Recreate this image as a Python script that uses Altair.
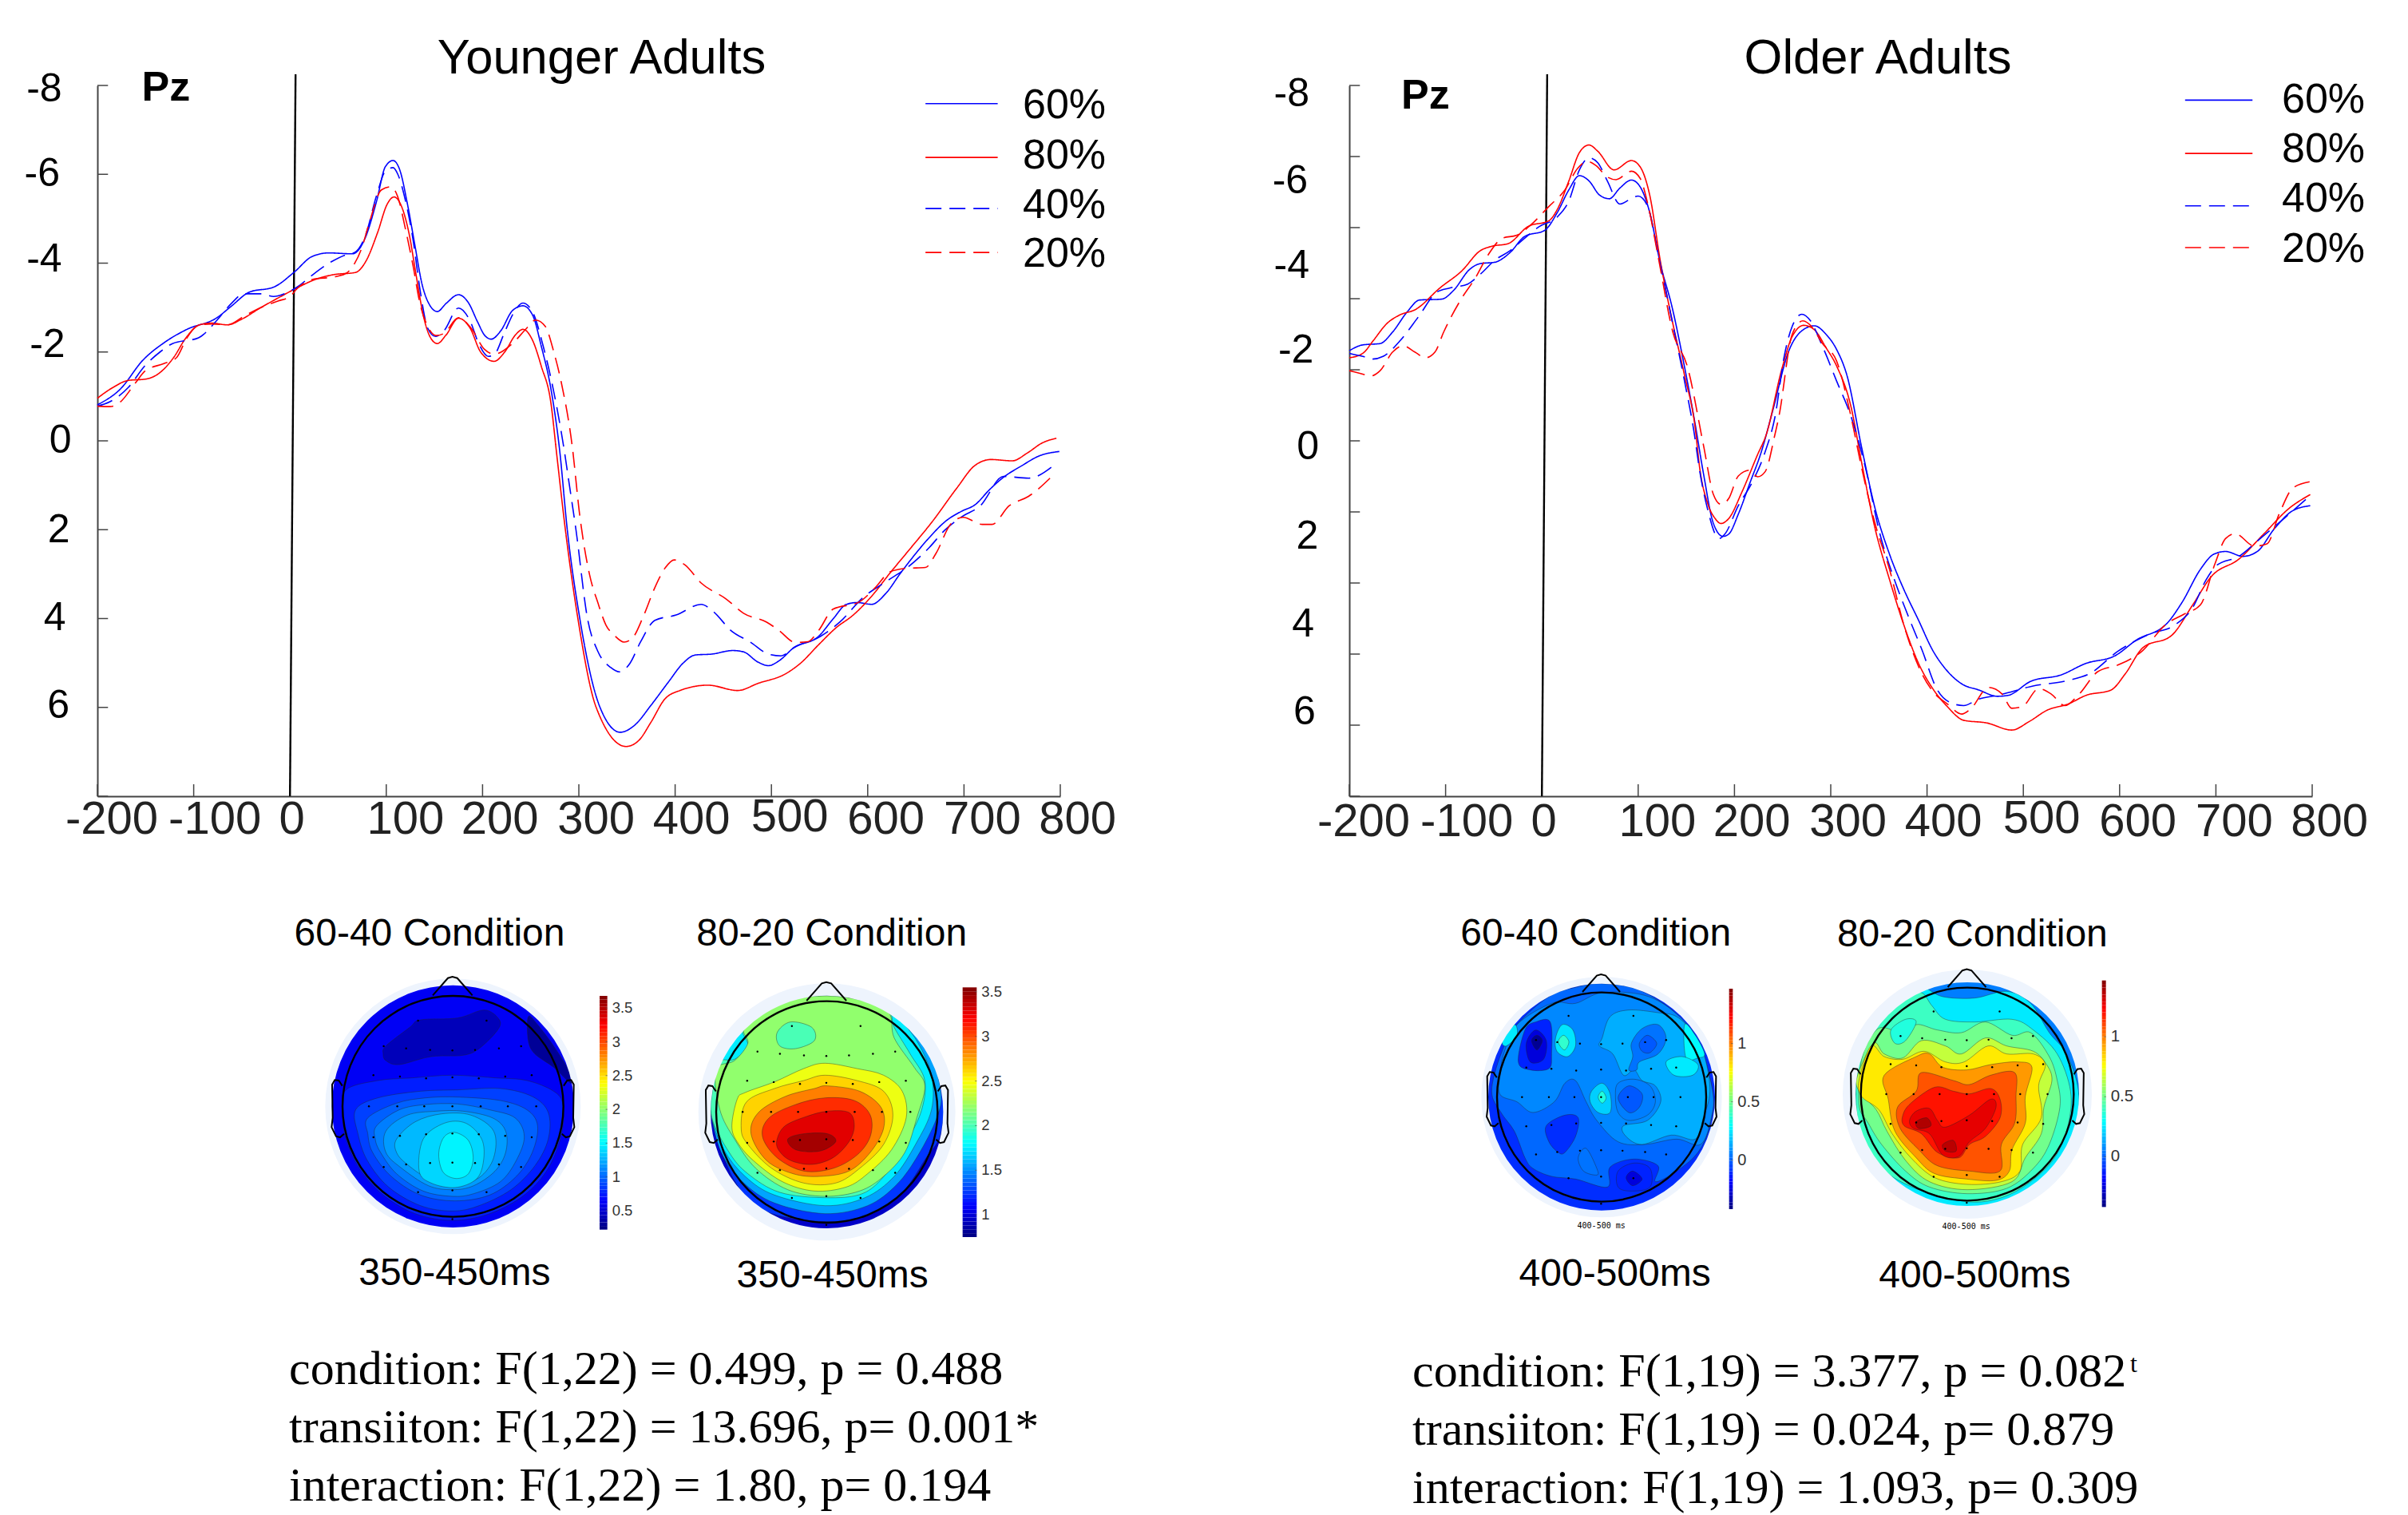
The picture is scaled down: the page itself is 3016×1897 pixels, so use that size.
import altair as alt
import pandas as pd

SERIES = ["60%", "80%", "40%", "20%"]
COLORS = ["#0000ff", "#ff0000", "#0000ff", "#ff0000"]
DASHES = [[1, 0], [1, 0], [20, 10], [20, 10]]

# ---- Younger adults
Y60_X = [-200,-176,-153,-130,-107,-76,-61,-42,-17,4,23,40,65,78,90,99,107,114,122,130,137,145,153,162,175,185,195,202,209,219,231,242,252,261,271,280,288,301,322,343,358,375,393,408,421,438,460,471,486,497,508,523,549,564,578,589,604,619,634,649,663,682,697,712,726,741,760,778,799]
Y60_Y = [-.81,-1.17,-1.81,-2.22,-2.51,-2.77,-3.03,-3.35,-3.46,-3.79,-4.15,-4.23,-4.21,-4.56,-5.4,-6.17,-6.31,-6.1,-5.33,-4.37,-3.54,-3.06,-2.91,-3.09,-3.29,-3.12,-2.67,-2.38,-2.29,-2.48,-2.93,-3.04,-2.83,-2.13,-1.17,.2,2,4,6,6.56,6.4,5.95,5.43,5.01,4.82,4.8,4.72,4.75,4.98,5.06,4.95,4.66,4.4,4.01,3.68,3.64,3.68,3.43,2.98,2.56,2.2,1.79,1.59,1.43,1.11,.82,.56,.34,.24]
Y80_X = [-200,-184,-168,-150,-136,-121,-108,-94,-81,-65,-50,-31,-12,7,26,45,68,79,91,101,108,116,124,131,139,146,153,162,175,187,198,212,223,234,242,252,261,271,277,286,299,318,349,362,375,389,405,434,465,486,515,530,549,567,585,604,623,644,667,693,711,728,750,766,781,796]
Y80_Y = [-.96,-1.2,-1.36,-1.39,-1.52,-1.87,-2.32,-2.61,-2.65,-2.61,-2.74,-2.99,-3.22,-3.44,-3.63,-3.74,-3.79,-4.05,-4.69,-5.33,-5.49,-5.27,-4.63,-3.73,-2.77,-2.32,-2.19,-2.38,-2.76,-2.54,-2,-1.79,-2,-2.38,-2.51,-2.26,-1.68,-.85,.3,2,4,6,6.88,6.75,6.33,5.82,5.62,5.5,5.62,5.46,5.24,5.01,4.59,4.21,3.92,3.5,2.98,2.43,1.82,1.05,.56,.42,.45,.27,.05,-.06]
Y40_X = [-200,-187,-168,-151,-135,-122,-95,-76,-61,-48,-30,-17,-6,8,23,42,61,67,78,90,99,107,112,120,128,135,143,151,160,175,187,196,206,212,223,232,242,252,263,274,284,290,297,309,320,333,342,353,364,379,401,427,440,458,478,497,510,523,551,571,595,619,643,664,680,697,717,741,767,795]
Y40_Y = [-.78,-.88,-1.2,-1.68,-2,-2.19,-2.32,-2.71,-3.09,-3.31,-3.31,-3.25,-3.31,-3.47,-3.73,-4.02,-4.21,-4.24,-4.6,-5.53,-6.07,-6.15,-6,-5.4,-4.5,-3.41,-2.54,-2.35,-2.48,-2.99,-2.7,-2.19,-1.9,-1.94,-2.45,-2.87,-3.1,-2.9,-2.13,-1.1,.1,.97,2,4,4.75,5.1,5.2,5.01,4.53,4.04,3.92,3.68,3.85,4.27,4.53,4.8,4.84,4.66,4.4,4.08,3.53,3.17,2.82,2.4,2.01,1.72,1.46,.8,.84,.52]
Y20_X = [-200,-187,-176,-161,-150,-131,-118,-107,-94,-81,-65,-46,-27,-12,0,8,23,48,59,67,74,82,95,105,112,120,128,135,143,152,160,175,188,202,212,231,246,255,265,274,282,293,301,311,320,328,337,347,356,367,379,390,399,410,427,453,471,495,508,525,538,549,564,591,608,623,640,660,671,686,699,719,729,747,767,795]
Y20_Y = [-.78,-.77,-.88,-1.29,-1.58,-1.74,-1.87,-2.32,-2.61,-2.63,-2.61,-2.83,-3.03,-3.15,-3.25,-3.44,-3.63,-3.7,-3.78,-3.99,-4.31,-4.88,-5.65,-5.72,-5.49,-4.76,-3.92,-3.09,-2.58,-2.37,-2.42,-2.77,-2.54,-2.06,-1.95,-2.19,-2.54,-2.72,-2.58,-2,-1.29,.1,1.69,3,3.66,4.14,4.38,4.53,4.43,3.95,3.3,2.85,2.68,2.79,3.2,3.56,3.88,4.08,4.27,4.54,4.52,4.27,3.79,3.63,3.3,2.95,2.87,2.85,2.53,1.88,1.72,1.88,1.88,1.46,1.25,.72]

# ---- Older adults
O60_X = [-200,-186,-168,-155,-140,-127,-104,-92,-75,-64,-49,-33,-18,3,16,28,39,49,60,70,81,93,102,112,123,135,148,159,168,178,188,194,204,216,228,240,256,272,283,295,306,317,332,346,361,376,391,406,421,436,454,473,484,508,539,565,595,617,650,665,684,698,710,728,743,761,780,798]
O60_Y = [-2.03,-2.16,-2.19,-2.45,-2.9,-3.17,-3.19,-3.38,-3.86,-3.99,-4.02,-4.24,-4.6,-4.74,-5.14,-5.65,-5.97,-5.85,-5.53,-5.45,-5.69,-5.87,-5.72,-5.14,-3.99,-3.03,-1.68,-.4,.76,1.85,2.15,2.1,1.65,.95,.24,-.7,-2,-2.51,-2.59,-2.4,-2.06,-1.46,.14,1.52,2.55,3.35,4.03,4.72,5.18,5.47,5.61,5.75,5.73,5.41,5.27,5.01,4.84,4.49,4.09,3.63,2.89,2.55,2.49,2.6,2.49,1.97,1.57,1.46]
O80_X = [-200,-186,-175,-161,-148,-131,-106,-83,-64,-52,-35,-14,7,16,28,39,49,58,75,93,102,112,123,136,148,159,164,172,180,186,194,208,224,233,249,260,272,283,295,306,321,332,346,361,376,391,406,421,438,462,488,506,525,547,565,591,606,624,654,676,695,724,750,776,798]
O80_Y = [-1.87,-1.97,-2.26,-2.64,-2.83,-2.96,-3.44,-3.83,-4.28,-4.38,-4.44,-4.83,-4.95,-5.21,-5.85,-6.49,-6.66,-6.52,-6.1,-6.31,-6.17,-5.53,-4.05,-2.64,-1.49,-.33,.63,1.4,1.75,1.86,1.75,1.14,.31,-.14,-1.6,-2.35,-2.6,-2.5,-2.1,-1.69,-.77,.48,1.97,3.12,4.15,5,5.58,5.98,6.29,6.35,6.51,6.32,6.06,5.92,5.73,5.61,5.24,4.66,4.38,3.69,3.06,2.66,2.09,1.52,1.21]
O40_X = [-200,-186,-176,-165,-147,-128,-109,-96,-77,-65,-48,-33,-18,-3,16,28,39,49,58,68,81,91,100,110,121,134,148,158,164,172,184,190,204,218,232,242,252,260,270,279,290,306,321,336,351,366,380,395,410,425,438,454,473,510,547,569,598,631,657,676,690,701,724,746,768,798]
O40_Y = [-1.97,-1.9,-1.84,-1.9,-2.26,-2.8,-3.35,-3.44,-3.53,-3.73,-4.08,-4.28,-4.56,-4.82,-5.04,-5.4,-6.1,-6.37,-6.26,-5.85,-5.33,-5.43,-5.51,-5.27,-4.18,-2.83,-1.36,-.2,.69,1.53,2.2,2.1,1.46,.95,.24,-.53,-1.94,-2.58,-2.85,-2.7,-2.2,-1.35,-.55,.6,2.09,3.12,3.92,4.72,5.58,5.9,5.96,5.81,5.73,5.52,5.39,5.24,4.74,4.35,4.15,3.75,3.12,2.8,2.6,2.2,1.8,1.23]
O20_X = [-200,-189,-178,-168,-155,-144,-132,-121,-111,-102,-83,-69,-56,-41,-26,-12,7,24,37,47,56,68,77,93,102,110,121,136,151,168,178,186,194,204,216,224,232,242,246,260,271,281,291,306,321,332,346,361,376,391,406,421,436,445,464,478,488,499,516,529,543,558,577,599,624,647,667,684,699,710,720,740,753,766,780,798]
O20_Y = [-1.58,-1.52,-1.46,-1.58,-2,-2.14,-2,-1.87,-2,-2.45,-3.22,-3.67,-4.18,-4.56,-4.63,-4.85,-5.27,-5.65,-6.13,-6.29,-6.2,-5.94,-5.88,-6.07,-5.91,-5.33,-4.12,-2.45,-1.68,.12,1.2,1.43,1.3,.79,.66,.81,.69,-.14,-.53,-2.4,-2.7,-2.55,-2.2,-1.8,-.55,.6,1.86,2.89,4.15,5.07,5.64,5.92,6.15,6.04,5.55,5.7,6.02,5.98,5.58,5.7,5.96,5.7,5.2,5.04,4.72,4.15,3.9,3.69,2.77,2.2,2.09,2.37,2.32,1.63,1.06,.92]

XTICKS = [-200,-100,0,100,200,300,400,500,600,700,800]
XLABEL_X = [-185,-78,2,120,218,318,417,519,619,719,818]
XLABELS = ["-200","-100","0","100","200","300","400","500","600","700","800"]
YLABELS = ["-8","-6","-4","-2","0","2","4","6"]
YTICKS_L = [-8,-6,-4,-2,0,2,4,6,8]
YLAB_L_Y = [-7.91,-6,-4.08,-2.16,0,2.01,3.99,5.97]
YLAB_L_X = [-236.8,-239,-236.8,-233.5,-226.8,-228.5,-232.6,-229]
XLAB_L_Y = [8.54,8.54,8.54,8.54,8.54,8.54,8.54,8.49,8.54,8.54,8.54]
YTICKS_R = [-8,-6.4,-4.8,-3.2,-1.6,0,1.6,3.2,4.8,6.4,8]
YLAB_R_Y = [-7.81,-5.85,-3.94,-2.03,.14,2.16,4.14,6.12]
YLAB_R_X = [-241.5,-243,-241.5,-237,-231.5,-232,-236.5,-235]
XLAB_R_Y = [8.6,8.6,8.6,8.6,8.6,8.6,8.6,8.52,8.6,8.6,8.6]

LEG_L_X = [660,735]; LEG_L_Y = [-7.59,-6.38,-5.23,-4.24]; LEGT_L_X = 761; LEGT_L_Y = [-7.55,-6.42,-5.31,-4.21]
LEG_R_X = [668,738]; LEG_R_Y = [-7.67,-6.47,-5.29,-4.35]; LEGT_R_X = 768.5; LEGT_R_Y = [-7.68,-6.56,-5.45,-4.32]

SANS = "Liberation Sans"
SERIF = "Liberation Serif"
AXC = "#444444"
XS = alt.Scale(domain=[-200, 800], nice=False, zero=False)
YS = alt.Scale(domain=[8, -8], nice=False, zero=False)
ax_x = alt.Axis(title=None, labels=False, ticks=False, grid=False, domainColor=AXC, domainWidth=2, orient="bottom")
ax_y = alt.Axis(title=None, labels=False, ticks=False, grid=False, domainColor=AXC, domainWidth=2, orient="left")


def xe(f="x"):
    return alt.X(f, type="quantitative", scale=XS, axis=ax_x)


def ye(f="y"):
    return alt.Y(f, type="quantitative", scale=YS, axis=ax_y)


def text_layer(rows, font, size, align="center", baseline="middle", weight="normal", color="#000000"):
    return alt.Chart(pd.DataFrame(rows)).mark_text(font=font, fontSize=size, align=align, baseline=baseline,
                                                   fontWeight=weight, color=color).encode(x=xe(), y=ye(), text="t:N")


def erp_panel(curves, title, title_x, pz, yticks, ylx, yly, xly, legx, legy, ltx, lty, bar):
    rows = []
    for name, xs, ys in curves:
        rows += [{"series": name, "x": a, "y": b} for a, b in zip(xs, ys)]
    col = alt.Color("series:N", scale=alt.Scale(domain=SERIES, range=COLORS), legend=None)
    dash = alt.StrokeDash("series:N", scale=alt.Scale(domain=SERIES, range=DASHES), legend=None)
    lines = alt.Chart(pd.DataFrame(rows)).mark_line(interpolate="monotone", strokeWidth=1.6).encode(
        x=xe(), y=ye(), color=col, strokeDash=dash, order="x:Q")
    leg_rows = []
    for s, yy in zip(SERIES, legy):
        leg_rows += [{"series": s, "x": legx[0], "y": yy}, {"series": s, "x": legx[1], "y": yy}]
    leg = alt.Chart(pd.DataFrame(leg_rows)).mark_line(strokeWidth=1.6).encode(x=xe(), y=ye(), color=col, strokeDash=dash)
    vline = alt.Chart(pd.DataFrame({"x": bar[0], "y": bar[1]})).mark_line(color="#000000", strokeWidth=2.4).encode(x=xe(), y=ye())
    xt = alt.Chart(pd.DataFrame({"x": XTICKS, "y0": [8] * len(XTICKS), "y1": [7.73] * len(XTICKS)})).mark_rule(color=AXC, strokeWidth=1.5).encode(
        x=xe(), y=ye("y0"), y2="y1:Q")
    yt = alt.Chart(pd.DataFrame({"y": yticks, "x0": [-200] * len(yticks), "x1": [-189] * len(yticks)})).mark_rule(color=AXC, strokeWidth=1.5).encode(
        y=ye(), x=xe("x0"), x2="x1:Q")
    layers = [xt, yt, vline, lines, leg,
              text_layer([{"x": a, "y": b, "t": c} for a, b, c in zip(XLABEL_X, xly, XLABELS)], SANS, 58, color="#222222"),
              text_layer([{"x": a, "y": b, "t": c} for a, b, c in zip(ylx, yly, YLABELS)], SANS, 50, align="right"),
              text_layer([{"x": ltx, "y": b, "t": s} for b, s in zip(lty, SERIES)], SANS, 52, align="left"),
              text_layer([{"x": pz[0], "y": pz[1], "t": "Pz"}], SANS, 52, align="left", weight="bold"),
              text_layer([{"x": title_x, "y": -8.6, "t": title}], SANS, 61.5)]
    return alt.layer(*layers).properties(width=1206, height=890)


# ---- scalp maps (coordinates in a 3x-per-pixel frame)
NOSE = [(-.183,-1.005),(-.046,-1.161),(-.005,-1.173),(.039,-1.161),(.176,-1.005)]
EAR_L = [(-1.002,-.186),(-1.034,-.234),(-1.07,-.239),(-1.094,-.198),(-1.089,.104),(-1.099,.188),(-1.058,.272),(-1.022,.28),(-.986,.248)]
EAR_R = [(-a, b) for a, b in EAR_L]
DOTS = [(-.316,-.776),(.304,-.776),
        (-.627,-.545),(-.424,-.525),(-.207,-.511),(-.005,-.506),(.2,-.511),(.416,-.525),(.617,-.545),
        (-.72,-.282),(-.48,-.27),(-.243,-.253),(-.005,-.263),(.234,-.253),(.473,-.27),(.713,-.282),
        (-.761,0),(-.504,0),(-.26,0),(-.005,0),(.251,0),(.497,0),(.754,0),
        (-.72,.279),(-.48,.267),(-.243,.253),(-.005,.246),(.234,.253),(.473,.267),(.713,.279),
        (-.627,.549),(-.424,.525),(-.207,.513),(-.005,.509),(.2,.513),(.416,.525),(.617,.549),
        (-.316,.776),(-.005,.76),(.304,.776),(-.005,1.02)]

M1_BASE = .62
M1 = [(.42,[(420,560),(430,530),(520,460),(560,432),(700,425),(800,395),(855,430),(850,470),(780,540),(720,565),(600,570),(480,600),(430,585)]),
      (.3,[(965,420),(1000,450),(1060,530),(1115,620),(1125,670),(1060,610),(990,560),(965,510)]),
      (.75,[(280,695),(400,660),(530,650),(680,640),(840,650),(960,660),(1060,700),(1095,750),(1090,860),(1040,990),(950,1090),(820,1160),(680,1185),(540,1160),(420,1090),(330,990),(280,880),(268,780)]),
      (.87,[(316,770),(400,725),(560,700),(700,695),(860,690),(980,720),(1040,780),(1040,880),(990,980),(900,1070),(780,1130),(680,1150),(560,1130),(440,1060),(360,960),(325,860)]),
      (.98,[(362,800),(470,745),(580,725),(700,722),(860,735),(960,770),(1000,830),(980,930),(920,1020),(820,1090),(690,1112),(560,1090),(450,1020),(380,930),(362,860)]),
      (1.08,[(395,830),(480,770),(580,750),(700,748),(820,770),(915,800),(950,870),(920,960),(860,1040),(760,1085),(680,1095),(570,1075),(470,1010),(410,930),(390,880)]),
      (1.18,[(430,850),(510,790),(620,775),(720,775),(830,800),(880,850),(880,930),(840,1000),(760,1055),(680,1070),(590,1055),(490,990),(430,930)]),
      (1.28,[(470,880),(540,815),(640,785),(750,790),(835,850),(835,950),(780,1025),(690,1050),(600,1035),(510,975),(470,930)]),
      (1.38,[(555,1000),(570,880),(650,820),(730,820),(790,880),(797,960),(770,1030),(690,1062),(600,1045)]),
      (1.48,[(630,920),(650,870),(690,855),(740,885),(758,950),(740,1010),(695,1028),(650,1010),(632,970)])]

M2_BASE = .95
M2 = [(1.25,[(211,780),(260,950),(330,1080),(440,1160),(648,1190),(800,1165),(930,1080),(1020,950),(1075,860),(1085,700),(1040,560),(960,460),(850,370),(648,340),(450,370),(330,440),(240,580),(211,700)]),
      (1.55,[(211,780),(250,930),(330,1040),(450,1120),(640,1160),(800,1130),(910,1050),(990,940),(1060,800),(1075,700),(1030,540),(960,470),(880,395),(760,355),(648,340),(480,360),(330,450),(240,580),(211,690)]),
      (1.75,[(212,790),(260,920),(340,1020),(450,1090),(640,1130),(790,1100),(900,1020),(980,900),(1040,770),(1040,640),(990,520),(930,440),(880,400),(800,365),(648,340),(480,360),(340,440),(250,570),(215,680)]),
      (2.0,[(215,800),(280,930),(350,1010),(470,1080),(640,1100),(780,1085),(870,1010),(940,900),(1000,780),(1015,660),(960,560),(900,460),(880,400),(790,360),(648,342),(490,360),(380,420),(330,470),(350,530),(300,580),(240,590),(220,680)]),
      (2.2,[(230,620),(300,585),(350,520),(335,470),(390,420),(500,360),(648,342),(790,362),(880,405),(900,500),(975,610),(1015,680),(985,800),(940,930),(860,1020),(770,1075),(640,1095),(500,1070),(380,990),(300,880),(245,770)]),
      (2.0,[(460,480),(510,440),(590,460),(600,510),(530,540),(470,530)]),
      (2.45,[(290,830),(310,730),(340,705),(450,665),(560,615),(640,595),(760,615),(860,640),(930,700),(945,800),(890,920),(800,1010),(720,1060),(600,1075),(480,1040),(370,960),(310,890)]),
      (2.62,[(325,840),(345,740),(450,690),(560,660),(640,640),(760,660),(860,700),(895,790),(860,900),(770,990),(680,1045),(560,1045),(440,990),(350,900)]),
      (2.85,[(362,860),(390,780),(490,720),(600,690),(650,680),(770,700),(850,760),(860,840),(810,930),(730,1000),(620,1020),(520,1010),(420,960)]),
      (3.08,[(405,870),(430,800),(530,750),(640,725),(750,735),(810,790),(810,870),(760,940),(670,990),(560,1000),(460,950)]),
      (3.28,[(460,880),(490,830),(570,795),(650,775),(730,780),(750,830),(730,890),(670,950),(590,975),(510,960),(465,920)]),
      (3.45,[(500,880),(560,860),(650,860),(680,890),(620,925),(530,920)])]

M3_BASE = -.1
M3 = [(.01,[(205,700),(240,560),(300,450),(420,345),(520,310),(617,296),(760,320),(900,410),(980,520),(1035,700),(1025,830),(980,930),(900,1000),(820,1040),(830,980),(740,955),(650,985),(640,1060),(520,1030),(430,1020),(360,990),(330,950),(290,850),(240,780)]),
      (.07,[(235,710),(300,740),(360,780),(440,740),(480,670),(520,660),(560,740),(600,810),(680,890),(780,900),(900,880),(990,900),(1030,800),(1035,700),(985,520),(900,410),(780,340),(620,330),(520,370),(430,370),(300,450),(250,560),(240,620)]),
      (.14,[(620,500),(650,420),(720,395),(830,405),(900,420),(960,480),(1005,570),(1025,700),(1000,800),(970,880),(880,865),(770,900),(710,870),(700,830),(790,810),(840,740),(820,680),(770,660),(740,620),(700,640),(660,560),(610,530)]),
      (.05,[(670,720),(680,670),(740,655),(800,680),(820,740),(790,790),(720,810),(680,780)]),
      (-.02,[(680,725),(720,680),(770,710),(760,760),(720,780)]),
      (.03,[(730,520),(770,465),(830,450),(860,500),(830,560),(760,590),(750,620),(720,620),(735,570)]),
      (-.02,[(760,520),(790,490),(825,520),(800,555),(770,550)]),
      (.24,[(445,500),(470,450),(510,470),(520,530),(490,570),(450,550)]),
      (.38,[(455,515),(475,490),(495,515),(478,545)]),
      (.2,[(580,700),(620,670),(650,710),(650,780),(605,780),(575,740)]),
      (.35,[(605,722),(620,700),(635,725),(620,745)]),
      (-.12,[(305,590),(330,470),(370,440),(425,440),(430,560),(420,615),(350,620)]),
      (-.25,[(335,520),(370,470),(410,510),(400,580),(350,590)]),
      (-.38,[(355,510),(375,490),(395,510),(375,545)]),
      (-.1,[(410,830),(480,790),(530,800),(520,870),(480,930),(455,930),(420,890)]),
      (-.12,[(680,1000),(740,970),(800,990),(800,1060),(730,1075),(680,1060)]),
      (-.25,[(710,1025),(735,1000),(770,1030),(735,1055)]),
      (.03,[(530,950),(560,915),(600,990),(600,1015),(550,1000)]),
      (.25,[(245,510),(290,450),(300,490),(260,530)]),
      (.28,[(930,450),(970,490),(1005,560),(980,575),(935,575)]),
      (.25,[(860,590),(920,570),(980,600),(960,640),(890,640)])]

M4_BASE = .05
M4 = [(.25,[(195,640),(250,490),(370,350),(440,310),(520,345),(640,350),(760,325),(850,370),(920,480),(985,560),(1030,700),(1020,850),(970,970),(880,1060),(760,1125),(612,1147),(470,1125),(340,1060),(250,970),(195,850)]),
      (.4,[(200,620),(260,470),(380,350),(440,330),(480,380),(530,430),(640,440),(780,430),(860,470),(950,560),(1000,700),(990,830),(940,950),(850,1040),(740,1100),(612,1115),(430,1070),(300,1000),(240,920),(200,810)]),
      (.5,[(215,580),(270,470),(330,470),(380,500),(420,450),(500,470),(590,480),(680,440),(780,490),(850,480),(920,570),(950,660),(960,760),(920,900),(860,990),(760,1065),(612,1085),(470,1060),(380,1000),(290,900),(240,820),(205,750)]),
      (.35,[(325,470),(380,430),(420,440),(380,510),(340,520)]),
      (.65,[(200,640),(260,520),(300,560),(370,575),(440,510),(530,530),(590,560),(680,500),(760,530),(860,550),(910,600),(930,660),(900,760),(890,860),(830,950),(780,1040),(612,1070),(470,1040),(380,960),(310,850),(270,770),(205,700)]),
      (.8,[(205,660),(250,530),(300,570),(370,580),(450,550),(530,590),(600,590),(690,530),(760,560),(860,560),(905,600),(880,680),(890,800),(820,900),(810,1000),(740,1040),(612,1050),(490,1025),(400,950),(330,860),(280,770),(215,720)]),
      (.95,[(300,640),(420,570),(470,560),(520,610),(610,620),(700,600),(800,590),(855,610),(830,720),(830,820),(780,920),(770,1000),(720,1035),(610,1030),(490,1010),(420,950),(340,850),(315,730)]),
      (1.08,[(420,700),(440,630),(560,660),(620,675),(700,640),(790,630),(795,720),(790,820),(740,900),(735,1000),(620,1000),(500,980),(430,920),(360,840),(350,760)]),
      (1.2,[(370,790),(400,745),(490,685),(560,700),(620,710),(700,690),(735,730),(735,800),(680,870),(620,900),(580,950),(500,930),(440,860),(375,830)]),
      (1.28,[(395,810),(420,775),(470,765),(500,810),(530,835),(620,790),(700,730),(720,760),(680,840),(620,890),(580,945),(520,940),(470,860),(410,840)]),
      (1.38,[(420,815),(460,800),(475,830),(430,840)]),
      (1.36,[(520,900),(560,885),(570,925),(530,925)])]

JET = ["#00007f","#0000ff","#007fff","#00ffff","#7fff7f","#ffff00","#ff7f00","#ff0000","#7f0000"]
PALE = "#eef4fd"
TOP_FRAME = -219
BOT_FRAME = 1530


def jet(v, lo, hi):
    f = max(0.0, min(1.0, (v - lo) / (hi - lo))) * 8
    i = min(7, int(f))
    t = f - i
    a = [int(JET[i][k:k + 2], 16) for k in (1, 3, 5)]
    b = [int(JET[i + 1][k:k + 2], 16) for k in (1, 3, 5)]
    return "#" + "".join(f"{round(p + (q - p) * t):02x}" for p, q in zip(a, b))


def map_panel(polys, base, cx, cy, r_disc, r_pale, r_head, x0, x1, vmin, vmax, ticks, bar, lfs,
              title, tx, ty, when, wx, wy, tiny=None):
    xs = alt.Scale(domain=[x0, x1], nice=False, zero=False)
    ys = alt.Scale(domain=[BOT_FRAME, TOP_FRAME], nice=False, zero=False)
    X = alt.X("x:Q", scale=xs, axis=None)
    Y = alt.Y("y:Q", scale=ys, axis=None)
    FILL = alt.Fill("col:N", scale=None, legend=None)
    rows = []
    for k, (lev, pts) in enumerate(polys):
        rows += [{"p": f"p{k:02d}", "i": i, "col": jet(lev, vmin, vmax), "x": a, "y": b} for i, (a, b) in enumerate(pts)]
    centre = pd.DataFrame({"x": [cx], "y": [cy], "col": [jet(base, vmin, vmax)]})
    disc = alt.Chart(centre).mark_point(filled=True, shape="circle", size=(2 * (r_disc + 3) / 3) ** 2, opacity=1).encode(
        x=X, y=Y, fill=FILL)
    contours = alt.Chart(pd.DataFrame(rows)).mark_line(interpolate="cardinal-closed", stroke="#222222", strokeWidth=.8, strokeOpacity=.5).encode(
        x=X, y=Y, detail="p:N", order="i:Q", fill=FILL)
    ring = alt.Chart(centre).mark_point(filled=False, shape="circle", size=((r_pale + r_disc) / 3) ** 2,
                                        strokeWidth=(r_pale - r_disc) / 3, color=PALE, opacity=1).encode(x=X, y=Y)
    head = alt.Chart(centre).mark_point(filled=False, shape="circle", size=(2 * r_head / 3) ** 2,
                                        strokeWidth=2.4, color="#000000", opacity=1).encode(x=X, y=Y)
    shp = []
    for name, pts in (("n", NOSE), ("l", EAR_L), ("r", EAR_R)):
        shp += [{"s": name, "i": i, "x": cx + a * r_head, "y": cy + b * r_head} for i, (a, b) in enumerate(pts)]
    outline = alt.Chart(pd.DataFrame(shp)).mark_line(color="#000000", strokeWidth=2).encode(x=X, y=Y, detail="s:N", order="i:Q")
    dots = alt.Chart(pd.DataFrame([{"x": cx + a * r_head, "y": cy + b * r_head} for a, b in DOTS])).mark_point(
        filled=True, shape="circle", size=6, color="#000000", opacity=1).encode(x=X, y=Y)

    # colour bar
    bx0, bx1, bt, bb = bar
    n = 64
    cells = [{"x": bx0, "x2": bx1, "y": bb + (bt - bb) * j / n, "y2": bb + (bt - bb) * (j + 1) / n,
              "col": jet(vmin + (vmax - vmin) * (j + .5) / n, vmin, vmax)} for j in range(n)]
    cbar = alt.Chart(pd.DataFrame(cells)).mark_rect(stroke=None).encode(x=X, x2="x2:Q", y=Y, y2="y2:Q", fill=FILL)
    ty_of = lambda v: bb + (bt - bb) * (v - vmin) / (vmax - vmin)
    tick_rows = [{"x": bx1 - 6, "x2": bx1, "y": ty_of(v)} for v in ticks]
    cticks = alt.Chart(pd.DataFrame(tick_rows)).mark_rule(color="#555555", strokeWidth=.8).encode(x=X, x2="x2:Q", y=Y)
    clabels = alt.Chart(pd.DataFrame([{"x": bx1 + 18, "y": ty_of(v), "t": f"{v:g}"} for v in ticks])).mark_text(
        font=SANS, fontSize=lfs, align="left", baseline="middle", color="#333333").encode(x=X, y=Y, text="t:N")

    def label(t, a, b, font, size):
        return alt.Chart(pd.DataFrame({"x": [a], "y": [b], "t": [t]})).mark_text(
            font=font, fontSize=size, baseline="middle", color="#000000").encode(x=X, y=Y, text="t:N")

    layers = [disc, contours, ring, head, outline, dots, cbar, cticks, clabels,
              label(title, tx, ty, SANS, 48), label(when, wx, wy, SANS, 48)]
    if tiny:
        layers.append(label("400-500 ms", tiny[0], tiny[1], "DejaVu Sans Mono", 10))
    return alt.layer(*layers).properties(width=(x1 - x0) / 3, height=(BOT_FRAME - TOP_FRAME) / 3)


# ---- statistics text
STAT_L = ["condition: F(1,22) = 0.499, p = 0.488", "transiiton: F(1,22) = 13.696, p= 0.001*", "interaction: F(1,22) = 1.80, p= 0.194"]
STAT_R = ["condition: F(1,19) = 3.377, p = 0.082", "transiiton: F(1,19) = 0.024, p= 0.879", "interaction: F(1,19) = 1.093, p= 0.309"]
STAT_L_Y = [1734, 1807, 1880]
STAT_R_Y = [1737, 1810, 1883]
STAT_L_X = 362
STAT_R_X = 1769

young = erp_panel([("60%", Y60_X, Y60_Y), ("80%", Y80_X, Y80_Y), ("40%", Y40_X, Y40_Y), ("20%", Y20_X, Y20_Y)],
                  "Younger Adults", 323.7, (-154, -7.95), YTICKS_L, YLAB_L_X, YLAB_L_Y, XLAB_L_Y,
                  LEG_L_X, LEG_L_Y, LEGT_L_X, LEGT_L_Y, ([0, 5.8], [8, -8.25]))
old = erp_panel([("60%", O60_X, O60_Y), ("80%", O80_X, O80_Y), ("40%", O40_X, O40_Y), ("20%", O20_X, O20_Y)],
                "Older Adults", 349, (-146, -7.77), YTICKS_R, YLAB_R_X, YLAB_R_Y, XLAB_R_Y,
                LEG_R_X, LEG_R_Y, LEGT_R_X, LEGT_R_Y, ([0, 5.5], [8, -8.25]))

row1 = alt.hconcat(young, old, spacing=362, bounds="flush")
m1 = map_panel(M1, M1_BASE, 682, 757, 455, 480, 415, -654, 1440, .22, 3.68, [.5, 1, 1.5, 2, 2.5, 3, 3.5], (1233, 1262, 342, 1220), 18.5,
               "60-40 Condition", 594, 110, "350-450ms", 688, 1385)
m2 = map_panel(M2, M2_BASE, 647, 778, 437, 483, 416, 0, 1440, .75, 3.55, [1, 1.5, 2, 2.5, 3, 3.5], (1157, 1210, 310, 1248), 18.5,
               "80-20 Condition", 665, 110, "350-450ms", 668, 1395)
m3 = map_panel(M3, M3_BASE, 618, 722, 426, 452, 393, -1500, 1260, -.42, 1.47, [0, .5, 1], (1097, 1111, 315, 1143), 20,
               "60-40 Condition", 596, 110, "400-500ms", 668, 1390, tiny=(617, 1207))
m4 = map_panel(M4, M4_BASE, 612, 711, 420, 468, 400, -120, 1260, -.42, 1.47, [0, .5, 1], (1118, 1133, 284, 1135), 20.5,
               "80-20 Condition", 631, 115, "400-500ms", 640, 1395, tiny=(608, 1209))
row2 = alt.hconcat(m1, m2, m3, m4, spacing=0, bounds="flush")

sx = alt.Scale(domain=[122, 2896], nice=False, zero=False)
sy = alt.Scale(domain=[1897, 1644], nice=False, zero=False)
stat_rows = [{"x": STAT_L_X, "y": b, "t": t} for b, t in zip(STAT_L_Y, STAT_L)] + [{"x": STAT_R_X, "y": b, "t": t} for b, t in zip(STAT_R_Y, STAT_R)]
stats = alt.Chart(pd.DataFrame(stat_rows)).mark_text(font=SERIF, fontSize=60, align="left", baseline="alphabetic", color="#000000").encode(
    x=alt.X("x:Q", scale=sx, axis=None), y=alt.Y("y:Q", scale=sy, axis=None), text="t:N")
sup = alt.Chart(pd.DataFrame({"x": [2668], "y": [1719], "t": ["t"]})).mark_text(font=SERIF, fontSize=32, align="left", baseline="alphabetic", color="#000000").encode(
    x=alt.X("x:Q", scale=sx, axis=None), y=alt.Y("y:Q", scale=sy, axis=None), text="t:N")
row3 = alt.layer(stats, sup).properties(width=2774, height=253)

chart = alt.vconcat(row1, row2, row3, spacing=0).configure_view(stroke=None).properties(
    padding={"left": 22, "top": 34, "right": 0, "bottom": 0}, background="white")
chart.save("out.html", embed_options={"renderer": "svg", "actions": False})
